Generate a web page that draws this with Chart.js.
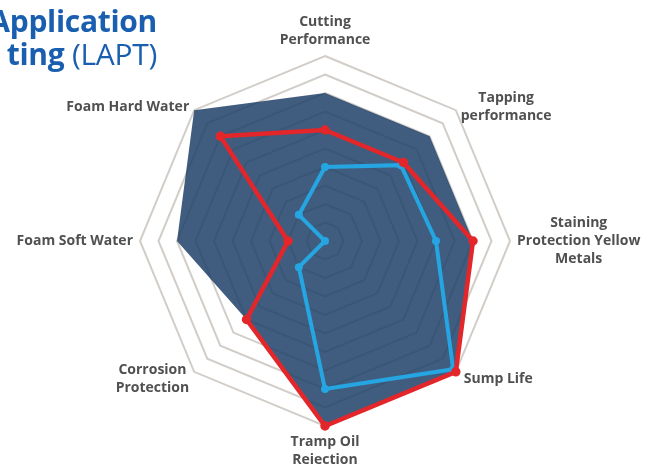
<!DOCTYPE html>
<html>
<head>
<meta charset="utf-8">
<script src="https://cdn.jsdelivr.net/npm/chart.js@4"></script>
<style>
  html, body { margin: 0; padding: 0; background: #fff; overflow: hidden; }
  #wrap { position: relative; width: 645px; height: 464px; }
  #radar { position: absolute; left: 0; top: 0; }
  #title {
    position: absolute; right: 488px; top: 4px;
    text-align: right; white-space: nowrap;
    font-family: "Open Sans", sans-serif; font-size: 30px; line-height: 33px;
    color: #1a5faf; font-weight: 700; letter-spacing: -0.3px;
  }
  #title .light { font-weight: 400; }
</style>
</head>
<body>
<div id="wrap">
  <canvas id="radar" width="645" height="464"></canvas>
  <div id="title">Application<br>ting <span class="light">(LAPT)</span></div>
</div>
<script>
// axes, clockwise from the top
const categories = [
  ["Cutting", "Performance"],
  ["Tapping", "performance"],
  ["Staining", "Protection Yellow", "Metals"],
  "Sump Life",
  ["Tramp Oil", "Rejection"],
  ["Corrosion", "Protection"],
  "Foam Soft Water",
  "Foam Hard Water",
];
const benchmark = [8, 8, 8, 10, 10, 6, 8, 10];   // dark filled area
const redSeries = [6, 6, 8, 10, 10, 6, 2, 8];
const blueSeries = [4, 5.8, 6, 9.8, 8, 2, 0, 2];
const scaleMin = 0;
const scaleMax = 10;

const radarCanvas = document.getElementById("radar");

new Chart(radarCanvas, {
  type: "radar",
  data: {
    labels: categories,
    datasets: [
      {
        label: "Benchmark",
        data: benchmark,
        fill: true,
        backgroundColor: "rgba(30,65,105,0.85)",
        borderWidth: 0,
        pointRadius: 0,
        order: 3,
      },
      {
        label: "Red",
        data: redSeries,
        fill: false,
        borderColor: "#e3262a",
        borderWidth: 4.5,
        pointRadius: 2.5,
        pointBackgroundColor: "#e3262a",
        pointBorderColor: "#e3262a",
        order: 1,
      },
      {
        label: "Blue",
        data: blueSeries,
        fill: false,
        borderColor: "#25a6e2",
        borderWidth: 4,
        pointRadius: 2,
        pointBackgroundColor: "#25a6e2",
        pointBorderColor: "#25a6e2",
        order: 2,
      },
    ],
  },
  options: {
    responsive: false,
    animation: false,
    plugins: { legend: { display: false }, tooltip: { enabled: false } },
    layout: { padding: 0 },
    elements: { line: { tension: 0, borderJoinStyle: "miter" } },
    scales: {
      r: {
        min: scaleMin,
        max: scaleMax,
        ticks: { display: false, stepSize: 1 },
        angleLines: { display: false },
        grid: { color: "#d2cdc8", lineWidth: 2 },
        pointLabels: {
          color: "#505050",
          padding: 7,
          font: { family: "Open Sans", size: 14, weight: "bold", lineHeight: 1.28 },
        },
        // pin centre and radius to match the picture, then rebuild label positions
        afterFit: (s) => {
          s.xCenter = 325;
          s.yCenter = 241;
          s.drawingArea = 185;
          const box = [s.left, s.right, s.top, s.bottom];
          s.left = -3000; s.right = 3000; s.top = -3000; s.bottom = 3000;
          s.fit();
          [s.left, s.right, s.top, s.bottom] = box;
          // centre multi-line labels; diagonal labels sit level with their corner
          s._pointLabelItems.forEach((item, i) => {
            const h = item.bottom - item.top;
            item.x = (item.left + item.right) / 2;
            item.textAlign = "center";
            if (i === 1 || i === 7) item.y += h / 2 + 2;
            if (i === 3 || i === 5) item.y -= h / 2 - 2;
            if (i === 3) item.x += 3;
          });
        },
      },
    },
  },
});
</script>
</body>
</html>
